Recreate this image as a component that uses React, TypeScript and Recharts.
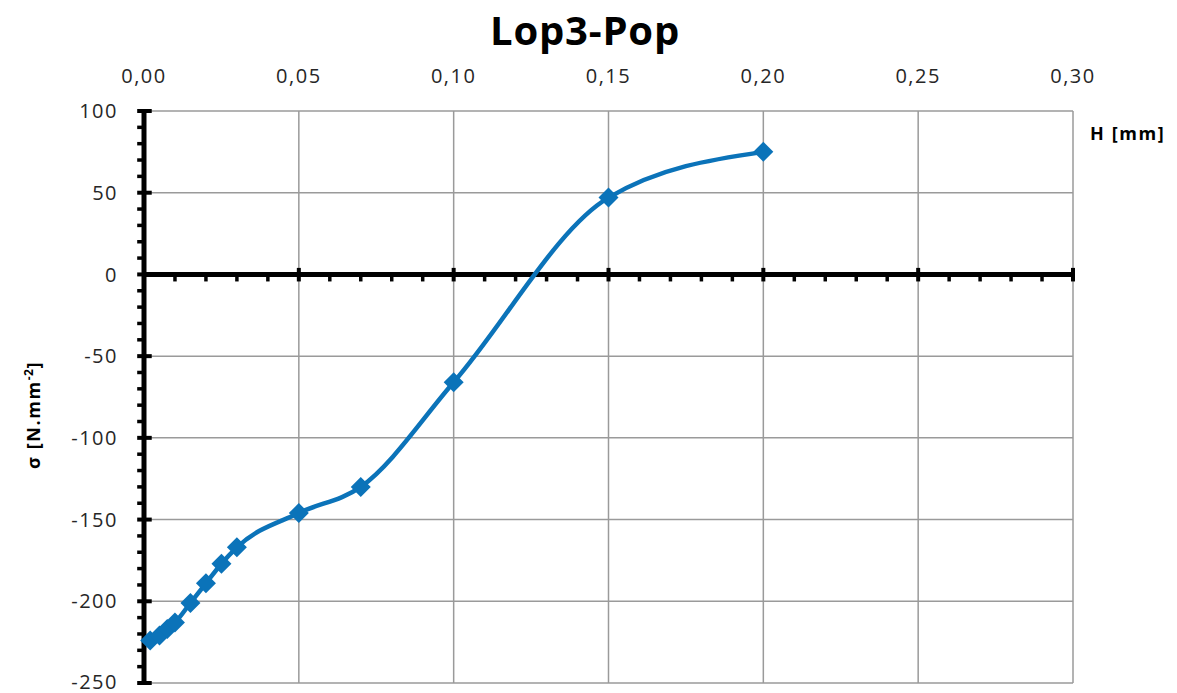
import React from 'react';
import { LineChart, Line, XAxis, YAxis, CartesianGrid, ReferenceLine } from 'recharts';

const hValues = [0.002, 0.005, 0.0075, 0.01, 0.015, 0.02, 0.025, 0.03, 0.05, 0.07, 0.1, 0.15, 0.2];
const sigmaValues = [-224, -221, -217, -213, -201, -189, -177, -167, -146, -130, -66, 47, 75];
const xTicks = [0, 0.05, 0.1, 0.15, 0.2, 0.25, 0.3];
const xTickLabels = ['0,00', '0,05', '0,10', '0,15', '0,20', '0,25', '0,30'];
const yTicks = [100, 50, 0, -50, -100, -150, -200, -250];
const xMinorTicks = [
  0.01, 0.02, 0.03, 0.04, 0.06, 0.07, 0.08, 0.09, 0.11, 0.12, 0.13, 0.14,
  0.16, 0.17, 0.18, 0.19, 0.21, 0.22, 0.23, 0.24, 0.26, 0.27, 0.28, 0.29,
];
const yMinorTicks = [
  90, 80, 70, 60, 40, 30, 20, 10, -10, -20, -30, -40, -60, -70, -80, -90,
  -110, -120, -130, -140, -160, -170, -180, -190, -210, -220, -230, -240,
];

const data = hValues.map((h, i) => ({ h, s: sigmaValues[i] }));

const BLUE = '#0B73B9';
const FONT = '"Open Sans", "Liberation Sans", sans-serif';

const Diamond = (props: any) => {
  const { cx, cy, index } = props;
  if (cx == null || cy == null) return null;
  const r = 10;
  return (
    <polygon
      key={`d${index}`}
      points={`${cx},${cy - r} ${cx + r},${cy} ${cx},${cy + r} ${cx - r},${cy}`}
      fill={BLUE}
    />
  );
};

const tickStyle = { fill: '#262626', fontSize: 20, fontFamily: FONT, letterSpacing: 1.5 };

export default function App() {
  return (
    <div style={{ position: 'absolute', left: 0, top: 0, width: 1177, height: 693, background: '#fff' }}>
      <div
        style={{
          position: 'absolute',
          left: 0,
          width: 1170,
          top: 5,
          textAlign: 'center',
          fontFamily: FONT,
          fontWeight: 700,
          fontSize: 40,
          letterSpacing: 0.8,
          color: '#000',
          lineHeight: '50px',
        }}
      >
        Lop3-Pop
      </div>
      <div
        style={{
          position: 'absolute',
          left: 1090,
          top: 120,
          fontFamily: FONT,
          fontWeight: 700,
          fontSize: 18,
          letterSpacing: 1.6,
          lineHeight: '26px',
          color: '#000',
          whiteSpace: 'nowrap',
        }}
      >
        H [mm]
      </div>
      <div
        style={{
          position: 'absolute',
          left: 31,
          top: 415,
          transform: 'translate(-50%, -50%) rotate(-90deg)',
          fontFamily: FONT,
          fontWeight: 700,
          fontSize: 18,
          letterSpacing: 1.6,
          lineHeight: '26px',
          color: '#000',
          whiteSpace: 'nowrap',
        }}
      >
        σ [N.mm<sup style={{ fontSize: 12, letterSpacing: 0.5 }}>-2</sup>]
      </div>
      <LineChart
        width={1177}
        height={693}
        data={data}
        margin={{ top: 60, right: 104, bottom: 10, left: 0 }}
        style={{ position: 'absolute', left: 0, top: 0 }}
      >
        <CartesianGrid stroke="#9a9a9a" strokeWidth={1.5} />
        <XAxis
          dataKey="h"
          type="number"
          orientation="top"
          domain={[0, 0.3]}
          ticks={xTicks}
          tickFormatter={(v: number) => xTickLabels[xTicks.findIndex((t) => Math.abs(t - v) < 1e-9)] ?? ''}
          axisLine={false}
          tickLine={false}
          height={51}
          tickSize={6}
          tickMargin={22}
          tick={tickStyle}
        />
        <YAxis
          type="number"
          domain={[-250, 100]}
          ticks={yTicks}
          width={144}
          axisLine={{ stroke: '#000', strokeWidth: 5 }}
          tickLine={false}
          tickSize={6}
          tickMargin={20}
          tick={tickStyle}
        />
        <ReferenceLine y={0} stroke="#000" strokeWidth={5} ifOverflow="visible" />
        {xTicks.map((t) => (
          <ReferenceLine
            key={`xm${t}`}
            segment={[{ x: t, y: 4 }, { x: t, y: -4.3 }]}
            stroke="#000"
            strokeWidth={4}
            ifOverflow="visible"
          />
        ))}
        {xMinorTicks.map((t) => (
          <ReferenceLine
            key={`xn${t}`}
            segment={[{ x: t, y: 0 }, { x: t, y: -4.3 }]}
            stroke="#000"
            strokeWidth={3.5}
            ifOverflow="visible"
          />
        ))}
        {yTicks.map((t) => (
          <ReferenceLine
            key={`ym${t}`}
            segment={[{ x: -0.0022, y: t }, { x: 0.0025, y: t }]}
            stroke="#000"
            strokeWidth={4}
            ifOverflow="visible"
          />
        ))}
        {yMinorTicks.map((t) => (
          <ReferenceLine
            key={`yn${t}`}
            segment={[{ x: -0.0022, y: t }, { x: 0, y: t }]}
            stroke="#000"
            strokeWidth={3.5}
            ifOverflow="visible"
          />
        ))}
        <Line
          type="monotone"
          dataKey="s"
          stroke={BLUE}
          strokeWidth={4.5}
          dot={Diamond}
          activeDot={false}
          isAnimationActive={false}
        />
      </LineChart>
    </div>
  );
}
